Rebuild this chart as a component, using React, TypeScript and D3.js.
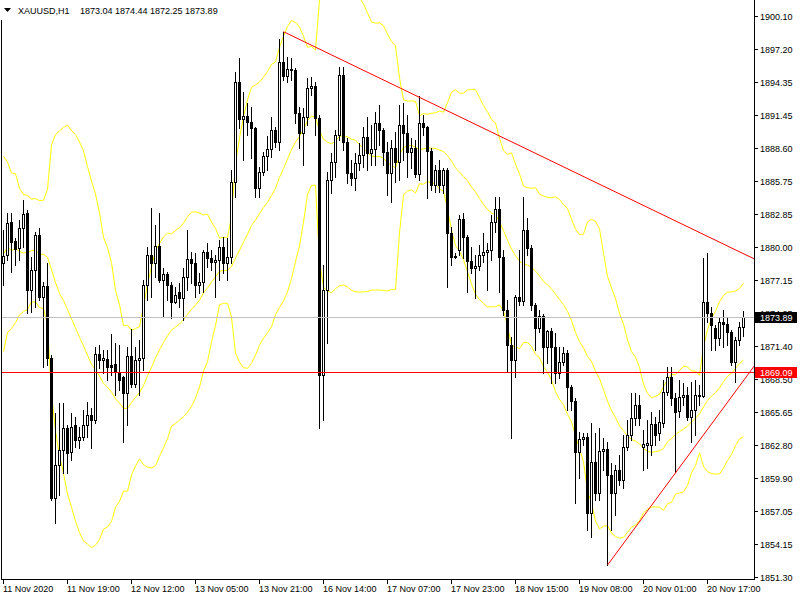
import { useEffect, useRef } from 'react';
import * as d3 from 'd3';

// Chart geometry (MT4 style window)
const WIDTH = 800;
const HEIGHT = 600;
const PLOT_RIGHT = 754;
const PLOT_BOTTOM = 579;
const LAST_SLOT = 187.75; // bar slot at the right edge of the plot

const COLOR_BAND = "#FFFF00";
const COLOR_LEVEL = "#FF0000";
const COLOR_BID = "#C0C0C0";
const FONT = "'Liberation Sans', Arial, sans-serif";

const symbolTitle = "XAUUSD,H1";
const lastQuote = "1873.04 1874.44 1872.25 1873.89";

// H1 bars, 11 Nov 2020 -> 20 Nov 2020
const opens = [
  1878.61, 1879.30, 1882.18, 1880.52, 1879.91, 1881.65, 1882.96, 1876.26, 1878.00, 1881.04,
  1875.65, 1876.61, 1870.34, 1858.16, 1861.03, 1862.34, 1864.25, 1862.17, 1864.51, 1863.21,
  1863.47, 1864.51, 1865.38, 1864.95, 1870.69, 1870.17, 1870.26, 1869.73, 1869.82, 1869.13,
  1868.69, 1867.30, 1870.52, 1868.08, 1870.17, 1870.34, 1876.69, 1879.30, 1878.61, 1880.09,
  1877.13, 1877.65, 1876.69, 1875.22, 1876.09, 1875.56, 1877.39, 1878.96, 1878.61, 1876.69,
  1876.96, 1879.57, 1879.04, 1878.70, 1878.87, 1880.00, 1878.61, 1879.13, 1885.66, 1894.36,
  1891.14, 1891.40, 1890.88, 1890.35, 1885.13, 1886.53, 1887.92, 1888.53, 1890.18, 1889.14,
  1896.10, 1894.88, 1895.49, 1895.40, 1891.66, 1889.92, 1891.31, 1893.83, 1894.01, 1891.22,
  1868.86, 1876.26, 1885.83, 1887.40, 1889.74, 1894.96, 1889.14, 1886.44, 1886.00, 1887.31,
  1888.00, 1889.57, 1888.18, 1888.53, 1890.79, 1890.18, 1888.27, 1886.44, 1888.61, 1887.40,
  1890.61, 1889.92, 1888.27, 1888.61, 1886.35, 1890.79, 1890.44, 1888.35, 1885.39, 1886.70,
  1885.39, 1886.70, 1881.22, 1879.13, 1879.74, 1882.44, 1880.87, 1878.78, 1878.17, 1878.35,
  1879.30, 1879.57, 1879.74, 1882.18, 1883.31, 1879.13, 1874.52, 1871.47, 1870.17, 1875.65,
  1875.30, 1881.48, 1879.91, 1874.95, 1872.95, 1874.00, 1871.30, 1872.69, 1871.30, 1869.04,
  1870.00, 1870.78, 1867.82, 1866.60, 1862.17, 1863.30, 1863.47, 1856.86, 1861.30, 1858.60,
  1862.25, 1862.43, 1860.16, 1858.60, 1860.60, 1859.73, 1862.60, 1863.64, 1865.12, 1866.25,
  1862.60, 1862.77, 1862.77, 1864.60, 1863.82, 1864.69, 1867.39, 1868.69, 1866.86, 1865.73,
  1866.95, 1867.12, 1865.21, 1865.82, 1867.04, 1867.04, 1875.22, 1874.26, 1872.95, 1872.08,
  1873.48, 1873.30, 1872.61, 1870.00, 1871.91, 1873.04,
];

const highs = [
  1881.48, 1882.96, 1882.96, 1880.78, 1882.35, 1884.09, 1883.22, 1879.13, 1881.31, 1881.65,
  1876.96, 1878.61, 1870.60, 1865.56, 1866.43, 1866.43, 1864.51, 1865.56, 1865.21, 1864.34,
  1865.82, 1866.52, 1865.99, 1871.30, 1871.47, 1871.04, 1871.04, 1872.43, 1871.65, 1871.47,
  1868.78, 1871.30, 1872.87, 1871.30, 1871.91, 1877.13, 1880.00, 1883.39, 1881.91, 1882.96,
  1878.17, 1877.83, 1876.96, 1876.52, 1876.87, 1878.17, 1881.48, 1879.57, 1879.48, 1877.74,
  1879.74, 1880.35, 1879.74, 1879.30, 1880.61, 1880.87, 1880.78, 1886.70, 1895.23, 1896.44,
  1893.49, 1892.53, 1892.18, 1890.44, 1886.96, 1888.27, 1889.66, 1891.31, 1890.44, 1898.10,
  1898.73, 1896.53, 1896.44, 1895.57, 1892.18, 1892.09, 1894.70, 1894.79, 1894.36, 1891.48,
  1878.43, 1886.53, 1888.18, 1890.18, 1895.66, 1895.66, 1889.48, 1887.57, 1888.18, 1889.05,
  1890.44, 1891.31, 1890.61, 1891.75, 1892.35, 1890.35, 1889.14, 1889.31, 1890.01, 1892.35,
  1892.53, 1891.48, 1889.48, 1889.31, 1893.14, 1891.48, 1890.53, 1888.61, 1887.13, 1887.57,
  1886.87, 1886.87, 1881.74, 1879.48, 1882.78, 1882.96, 1881.04, 1880.00, 1879.30, 1880.17,
  1881.22, 1880.35, 1882.78, 1884.35, 1884.35, 1879.74, 1875.39, 1872.17, 1875.82, 1879.74,
  1884.35, 1882.52, 1880.17, 1875.13, 1874.52, 1874.17, 1872.78, 1872.95, 1872.52, 1871.30,
  1871.30, 1871.04, 1867.99, 1866.86, 1863.91, 1863.82, 1863.82, 1864.69, 1863.82, 1864.25,
  1863.38, 1863.04, 1861.21, 1861.03, 1861.90, 1863.64, 1864.95, 1867.30, 1867.30, 1867.12,
  1864.08, 1864.95, 1865.65, 1865.21, 1865.82, 1868.43, 1869.56, 1869.56, 1867.30, 1868.43,
  1868.17, 1867.82, 1868.26, 1868.43, 1867.99, 1879.04, 1879.48, 1874.78, 1873.21, 1873.91,
  1874.52, 1873.82, 1872.78, 1872.17, 1873.48, 1874.44,
];

const lows = [
  1876.69, 1878.87, 1877.83, 1878.43, 1878.87, 1880.00, 1874.26, 1874.35, 1874.78, 1875.39,
  1869.56, 1869.73, 1857.99, 1855.99, 1858.42, 1860.34, 1860.34, 1861.47, 1862.60, 1862.51,
  1863.21, 1863.47, 1862.51, 1864.69, 1869.47, 1869.04, 1868.43, 1868.86, 1867.12, 1867.56,
  1863.04, 1864.51, 1867.82, 1867.82, 1867.12, 1869.30, 1875.39, 1875.65, 1877.39, 1876.96,
  1873.91, 1875.39, 1873.82, 1875.13, 1874.78, 1873.65, 1876.26, 1876.87, 1875.65, 1876.00,
  1876.09, 1878.26, 1878.00, 1875.65, 1877.13, 1877.74, 1877.13, 1878.61, 1884.35, 1890.35,
  1887.57, 1889.74, 1887.74, 1884.35, 1884.35, 1886.26, 1886.70, 1887.83, 1888.70, 1888.44,
  1894.53, 1894.36, 1894.53, 1890.79, 1888.61, 1887.13, 1890.61, 1893.22, 1889.74, 1864.25,
  1864.95, 1871.65, 1884.70, 1886.09, 1889.31, 1888.44, 1885.57, 1885.39, 1884.96, 1886.70,
  1886.96, 1886.70, 1887.13, 1887.13, 1888.87, 1887.13, 1884.52, 1883.92, 1885.66, 1885.83,
  1887.57, 1886.09, 1886.87, 1886.09, 1885.83, 1889.74, 1884.26, 1884.96, 1884.79, 1884.79,
  1884.70, 1876.52, 1878.43, 1879.04, 1879.30, 1879.04, 1876.09, 1877.74, 1875.56, 1878.00,
  1878.70, 1876.26, 1878.87, 1881.31, 1876.09, 1874.08, 1869.13, 1863.38, 1868.69, 1874.95,
  1874.95, 1879.30, 1874.52, 1871.04, 1872.61, 1869.04, 1869.91, 1868.17, 1868.17, 1868.60,
  1869.73, 1865.82, 1865.82, 1857.73, 1859.90, 1862.77, 1855.38, 1854.77, 1857.99, 1857.99,
  1860.60, 1852.33, 1855.38, 1856.68, 1859.29, 1859.03, 1862.34, 1863.21, 1864.51, 1864.51,
  1860.60, 1860.77, 1861.90, 1862.77, 1863.21, 1864.34, 1867.12, 1866.25, 1860.43, 1865.21,
  1866.25, 1864.95, 1863.04, 1863.64, 1866.25, 1866.95, 1873.48, 1871.04, 1871.04, 1871.47,
  1871.30, 1871.47, 1869.73, 1868.26, 1871.47, 1872.25,
];

const closes = [
  1879.22, 1882.09, 1880.44, 1879.83, 1881.65, 1882.87, 1876.26, 1878.00, 1881.04, 1875.65,
  1876.61, 1870.34, 1858.16, 1861.03, 1862.34, 1864.25, 1862.08, 1864.34, 1863.21, 1863.47,
  1864.51, 1865.38, 1864.95, 1870.69, 1870.17, 1870.34, 1869.56, 1869.56, 1869.13, 1868.43,
  1867.30, 1870.52, 1868.08, 1870.17, 1870.34, 1876.69, 1879.30, 1878.61, 1880.09, 1877.13,
  1877.65, 1876.69, 1875.22, 1875.82, 1875.56, 1877.39, 1878.96, 1878.61, 1876.69, 1876.96,
  1879.57, 1879.04, 1878.70, 1878.87, 1880.00, 1878.61, 1879.13, 1885.66, 1894.36, 1891.14,
  1891.40, 1890.88, 1890.35, 1885.13, 1886.53, 1887.92, 1888.53, 1890.18, 1889.14, 1896.10,
  1894.88, 1895.49, 1895.40, 1891.66, 1889.92, 1891.31, 1893.83, 1894.01, 1891.22, 1868.86,
  1876.26, 1885.83, 1887.40, 1889.74, 1894.96, 1889.14, 1886.44, 1886.00, 1887.31, 1888.00,
  1889.57, 1888.18, 1888.53, 1890.79, 1890.18, 1888.27, 1886.44, 1888.61, 1887.40, 1890.61,
  1889.92, 1888.27, 1888.61, 1886.35, 1890.79, 1890.44, 1888.35, 1885.39, 1886.70, 1885.39,
  1886.70, 1881.22, 1879.13, 1879.22, 1882.44, 1880.87, 1878.78, 1878.17, 1878.35, 1879.30,
  1879.57, 1879.74, 1882.18, 1883.31, 1879.13, 1874.52, 1871.47, 1870.17, 1875.65, 1875.30,
  1881.48, 1879.91, 1874.95, 1872.95, 1874.00, 1871.30, 1872.69, 1871.30, 1869.04, 1870.00,
  1870.78, 1867.82, 1866.60, 1862.17, 1863.30, 1863.47, 1856.86, 1861.30, 1858.60, 1862.25,
  1862.43, 1860.16, 1858.60, 1860.60, 1859.73, 1862.60, 1863.64, 1865.12, 1866.25, 1865.12,
  1862.86, 1862.95, 1864.60, 1863.64, 1864.78, 1867.39, 1868.69, 1866.86, 1865.65, 1866.95,
  1867.12, 1865.21, 1865.82, 1867.12, 1867.12, 1875.22, 1874.26, 1873.21, 1872.08, 1873.48,
  1873.30, 1872.61, 1870.00, 1871.91, 1873.04, 1873.89,
];

// closes of the 19 bars before the first visible one (only feed the bands)
const warmupCloses = [
  1870.17, 1886.70, 1875.39, 1887.57, 1885.31, 1875.39, 1874.52, 1880.61, 1882.35, 1877.13,
  1875.39, 1879.74, 1883.22, 1881.48, 1876.26, 1878.00, 1880.61, 1878.87, 1879.92,
];
const BAND_PERIOD = 20;
const BAND_DEV = 2;

const priceTicks = [
  "1900.10", "1897.20", "1894.35", "1891.45", "1888.60", "1885.75", "1882.85", "1880.00", "1877.15",
  "1874.25", "1871.40", "1868.50", "1865.65", "1862.80", "1859.90", "1857.05", "1854.15", "1851.30",
];
const timeLabels = [
  "11 Nov 2020", "11 Nov 19:00", "12 Nov 12:00", "13 Nov 05:00", "13 Nov 21:00", "16 Nov 14:00",
  "17 Nov 07:00", "17 Nov 23:00", "18 Nov 15:00", "19 Nov 08:00", "20 Nov 01:00", "20 Nov 17:00",
];
const timeLabelBars = [0, 16, 32, 48, 64, 80, 96, 112, 128, 144, 160, 176];

// horizontal objects
const levelPrice = 1869.09;
const bidPrice = 1873.89;
// trend lines (bar index, price), drawn as rays to the right
const resistanceLine = [[70, 1898.73], [104, 1893.02]];
const supportLine = [[151, 1852.33], [185, 1868.38]];

export default function App() {
  const svgRef = useRef<SVGSVGElement>(null);

  useEffect(() => {
    if (!svgRef.current) return;
    document.body.style.margin = "0";
    const svg = d3.select(svgRef.current);
    svg.selectAll("*").remove();

    const x = d3.scaleLinear().domain([0, LAST_SLOT]).range([3, PLOT_RIGHT]);
    const y = d3.scaleLinear().domain([1851.12, 1901.49]).range([PLOT_BOTTOM, 0]);
    const px = (i: number) => Math.round(x(i));
    const py = (p: number) => Math.round(y(p));

    svg.append("rect").attr("width", WIDTH).attr("height", HEIGHT).attr("fill", "#fff");

    svg.append("defs").append("clipPath").attr("id", "plot-clip")
      .append("rect").attr("x", 2).attr("y", 0)
      .attr("width", PLOT_RIGHT - 2).attr("height", PLOT_BOTTOM);

    const plot = svg.append("g").attr("clip-path", "url(#plot-clip)");

    // Bollinger bands (20, 2)
    const all = warmupCloses.concat(closes);
    const bands = closes.map((_, i) => {
      const win = all.slice(i, i + BAND_PERIOD);
      const mid = d3.mean(win) as number;
      const sd = Math.sqrt(d3.mean(win, (v) => (v - mid) ** 2) as number);
      return { i, mid, up: mid + BAND_DEV * sd, lo: mid - BAND_DEV * sd };
    });

    (["up", "mid", "lo"] as const).forEach((key) => {
      const line = d3.line<any>()
        .x((d) => px(d.i) + 0.5)
        .y((d) => y(d[key]));
      plot.append("path")
        .attr("d", line(bands))
        .attr("fill", "none")
        .attr("stroke", COLOR_BAND)
        .attr("stroke-width", 1);
    });

    // candles
    const candles = plot.append("g");
    closes.forEach((c, i) => {
      const o = opens[i];
      const cx = px(i);
      const top = py(Math.max(o, c));
      const bot = py(Math.min(o, c));
      candles.append("line")
        .attr("x1", cx + 0.5).attr("x2", cx + 0.5)
        .attr("y1", py(highs[i])).attr("y2", py(lows[i]) + 1)
        .attr("stroke", "#000");
      if (c >= o) {
        candles.append("rect")
          .attr("x", cx - 0.5).attr("y", top + 0.5)
          .attr("width", 2).attr("height", Math.max(bot - top, 0))
          .attr("fill", "#fff").attr("stroke", "#000");
      } else {
        candles.append("rect")
          .attr("x", cx - 1).attr("y", top)
          .attr("width", 3).attr("height", Math.max(bot - top, 1) + 1)
          .attr("fill", "#000");
      }
    });

    // trend lines
    [resistanceLine, supportLine].forEach(([[i1, p1], [i2, p2]]) => {
      const slope = (p2 - p1) / (i2 - i1);
      const iEnd = LAST_SLOT + 2;
      plot.append("line")
        .attr("x1", x(i1) + 0.5).attr("y1", y(p1))
        .attr("x2", x(iEnd) + 0.5).attr("y2", y(p1 + slope * (iEnd - i1)))
        .attr("stroke", COLOR_LEVEL).attr("stroke-width", 1);
    });

    // bid and level lines
    plot.append("line")
      .attr("x1", 2).attr("x2", PLOT_RIGHT)
      .attr("y1", py(bidPrice) + 0.5).attr("y2", py(bidPrice) + 0.5)
      .attr("stroke", COLOR_BID);
    plot.append("line")
      .attr("x1", 2).attr("x2", PLOT_RIGHT)
      .attr("y1", py(levelPrice) + 0.5).attr("y2", py(levelPrice) + 0.5)
      .attr("stroke", COLOR_LEVEL);

    // frame
    svg.append("line")
      .attr("x1", 1.5).attr("x2", 1.5).attr("y1", 20).attr("y2", PLOT_BOTTOM + 1)
      .attr("stroke", "#000");
    svg.append("line")
      .attr("x1", PLOT_RIGHT + 0.5).attr("x2", PLOT_RIGHT + 0.5).attr("y1", 0).attr("y2", PLOT_BOTTOM + 1)
      .attr("stroke", "#000");
    svg.append("line")
      .attr("x1", 1).attr("x2", PLOT_RIGHT + 1).attr("y1", PLOT_BOTTOM + 0.5).attr("y2", PLOT_BOTTOM + 0.5)
      .attr("stroke", "#000");

    // price axis
    const priceAxis = svg.append("g")
      .attr("font-family", FONT).attr("font-size", 9).attr("fill", "#000");
    priceTicks.forEach((t) => {
      const ty = py(+t);
      priceAxis.append("line")
        .attr("x1", PLOT_RIGHT + 1).attr("x2", PLOT_RIGHT + 4)
        .attr("y1", ty + 0.5).attr("y2", ty + 0.5)
        .attr("stroke", "#000");
      priceAxis.append("text").attr("x", 760).attr("y", ty + 3.5).text(t);
    });

    // price boxes
    [[bidPrice, "#000"], [levelPrice, COLOR_LEVEL]].forEach(([p, color]) => {
      const ty = py(p as number);
      priceAxis.append("rect")
        .attr("x", 755).attr("y", ty - 5).attr("width", 42).attr("height", 11)
        .attr("fill", color as string);
      priceAxis.append("text")
        .attr("x", 760).attr("y", ty + 3.5).attr("fill", "#fff")
        .text((p as number).toFixed(2));
    });

    // time axis
    const timeAxis = svg.append("g")
      .attr("font-family", FONT).attr("font-size", 9).attr("fill", "#000");
    timeLabelBars.forEach((b, k) => {
      const tx = px(b);
      timeAxis.append("line")
        .attr("x1", tx + 0.5).attr("x2", tx + 0.5)
        .attr("y1", PLOT_BOTTOM + 1).attr("y2", PLOT_BOTTOM + 5)
        .attr("stroke", "#000");
      timeAxis.append("text").attr("x", tx).attr("y", 592).text(timeLabels[k]);
    });

    // title
    svg.append("path").attr("d", "M4,8 L11,8 L7.5,12 Z").attr("fill", "#000");
    const title = svg.append("g").attr("font-family", FONT).attr("font-size", 9).attr("fill", "#000");
    title.append("text").attr("x", 18).attr("y", 14).text(symbolTitle);
    title.append("text").attr("x", 80).attr("y", 14).text(lastQuote);
  }, []);

  return (
    <svg
      ref={svgRef}
      width={WIDTH}
      height={HEIGHT}
      style={{ position: 'absolute', left: 0, top: 0, display: 'block' }}
    />
  );
}
